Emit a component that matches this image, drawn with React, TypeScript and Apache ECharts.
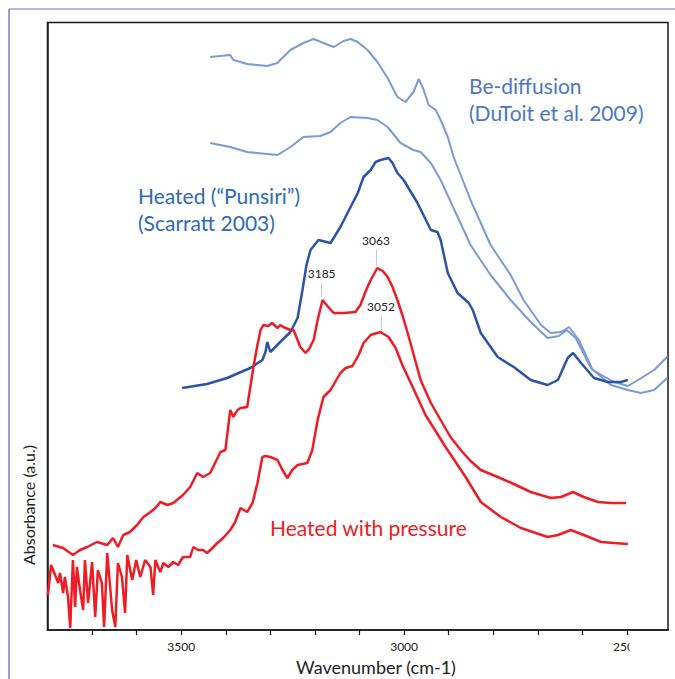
import React, { useEffect, useRef } from "react";
import * as echarts from "echarts";

// [wavenumber cm-1, absorbance a.u.]
const beDiffusionA: [number, number][] = [
  [3435, 5.73], [3390, 5.75], [3383, 5.7], [3352, 5.66], [3307, 5.64], [3284, 5.67], [3278, 5.7],
  [3255, 5.8], [3226, 5.87], [3203, 5.91], [3181, 5.87], [3158, 5.83], [3136, 5.89], [3120, 5.91],
  [3104, 5.88], [3082, 5.8], [3060, 5.68], [3037, 5.52], [3015, 5.33], [2997, 5.28], [2979, 5.38],
  [2967, 5.51], [2956, 5.4], [2945, 5.25], [2929, 5.2], [2918, 5.1], [2902, 4.93], [2889, 4.73],
  [2851, 4.3], [2806, 3.85], [2761, 3.55], [2732, 3.3], [2693, 3.05], [2671, 2.97], [2648, 2.98],
  [2630, 3.03], [2608, 2.9], [2577, 2.6], [2529, 2.48], [2498, 2.44], [2475, 2.5], [2439, 2.6], [2410, 2.73],
];

const beDiffusionB: [number, number][] = [
  [3435, 4.87], [3390, 4.83], [3352, 4.78], [3284, 4.75], [3255, 4.83], [3226, 4.93], [3188, 4.94],
  [3165, 4.98], [3143, 5.07], [3120, 5.13], [3082, 5.12], [3060, 5.1], [3037, 5.03], [3008, 4.87],
  [2979, 4.8], [2963, 4.78], [2940, 4.67], [2918, 4.5], [2884, 4.17], [2851, 3.85], [2806, 3.55],
  [2761, 3.3], [2716, 3.08], [2678, 2.92], [2653, 2.94], [2635, 3.0], [2615, 2.92], [2581, 2.62],
  [2536, 2.45], [2498, 2.4], [2469, 2.37], [2439, 2.4], [2410, 2.52],
];

const heatedPunsiri: [number, number][] = [
  [3498, 2.42], [3442, 2.46], [3397, 2.52], [3345, 2.62], [3318, 2.7], [3311, 2.78], [3307, 2.88],
  [3300, 2.78], [3278, 2.88], [3255, 2.98], [3239, 3.12], [3228, 3.4], [3219, 3.65], [3210, 3.8],
  [3192, 3.9], [3165, 3.87], [3143, 4.03], [3104, 4.37], [3091, 4.53], [3075, 4.6], [3064, 4.68],
  [3053, 4.7], [3035, 4.72], [3026, 4.67], [3015, 4.57], [3001, 4.5], [2970, 4.27], [2940, 4.0],
  [2925, 3.98], [2918, 3.9], [2902, 3.57], [2880, 3.37], [2855, 3.27], [2846, 3.2], [2828, 2.97],
  [2790, 2.73], [2754, 2.63], [2716, 2.5], [2678, 2.45], [2655, 2.5], [2633, 2.72], [2621, 2.77],
  [2603, 2.67], [2574, 2.52], [2543, 2.48], [2514, 2.48], [2498, 2.5],
];

const heatedPressureUpper: [number, number][] = [
  [3788, 0.85], [3765, 0.82], [3743, 0.75], [3727, 0.8], [3711, 0.83], [3689, 0.88], [3666, 0.85],
  [3653, 0.92], [3642, 0.83], [3630, 0.95], [3615, 0.98], [3599, 1.05], [3585, 1.13], [3569, 1.18],
  [3558, 1.22], [3547, 1.28], [3531, 1.25], [3518, 1.27], [3496, 1.35], [3480, 1.43], [3464, 1.57],
  [3451, 1.53], [3435, 1.57], [3412, 1.78], [3401, 1.8], [3390, 2.2], [3383, 2.13], [3374, 2.2],
  [3367, 2.22], [3352, 2.23], [3338, 2.63], [3329, 2.85], [3322, 3.0], [3316, 3.05], [3305, 3.04],
  [3296, 3.07], [3284, 3.02], [3278, 3.05], [3271, 3.03], [3255, 3.0], [3248, 3.0], [3239, 2.9],
  [3233, 2.83], [3221, 2.77], [3212, 2.82], [3203, 2.9], [3194, 3.1], [3183, 3.3], [3172, 3.24],
  [3158, 3.17], [3136, 3.17], [3109, 3.18], [3098, 3.25], [3087, 3.38], [3075, 3.5], [3060, 3.62],
  [3048, 3.59], [3037, 3.53], [3026, 3.43], [3015, 3.3], [3004, 3.15], [2992, 2.97], [2963, 2.5],
  [2940, 2.27], [2918, 2.1], [2896, 1.93], [2873, 1.8], [2851, 1.69], [2828, 1.6], [2790, 1.53],
  [2754, 1.46], [2716, 1.38], [2671, 1.32], [2648, 1.33], [2621, 1.38], [2597, 1.33], [2565, 1.28],
  [2536, 1.27], [2502, 1.27],
];

const heatedPressureLower: [number, number][] = [
  [3799, 0.35], [3792, 0.65], [3783, 0.55], [3776, 0.47], [3772, 0.57], [3765, 0.37], [3761, 0.53],
  [3754, 0.33], [3749, 0.02], [3743, 0.7], [3738, 0.23], [3734, 0.63], [3727, 0.4], [3720, 0.2],
  [3716, 0.7], [3709, 0.27], [3700, 0.68], [3693, 0.13], [3687, 0.6], [3678, 0.47], [3673, 0.03],
  [3666, 0.77], [3655, 0.2], [3648, 0.03], [3642, 0.67], [3633, 0.53], [3626, 0.17], [3621, 0.75],
  [3610, 0.5], [3601, 0.7], [3592, 0.53], [3581, 0.7], [3569, 0.63], [3563, 0.35], [3558, 0.7],
  [3547, 0.58], [3540, 0.67], [3529, 0.63], [3518, 0.68], [3507, 0.65], [3496, 0.73], [3480, 0.73],
  [3473, 0.83], [3462, 0.8], [3451, 0.8], [3442, 0.77], [3430, 0.82], [3419, 0.87], [3406, 0.92],
  [3390, 1.0], [3379, 1.08], [3367, 1.22], [3352, 1.18], [3340, 1.27], [3329, 1.47], [3318, 1.73],
  [3311, 1.74], [3300, 1.73], [3284, 1.7], [3273, 1.6], [3262, 1.52], [3251, 1.6], [3239, 1.65],
  [3217, 1.67], [3206, 1.8], [3194, 2.1], [3181, 2.33], [3165, 2.4], [3143, 2.57], [3131, 2.62],
  [3116, 2.64], [3102, 2.75], [3091, 2.87], [3075, 2.95], [3053, 2.98], [3035, 2.93], [3019, 2.82],
  [3004, 2.65], [2985, 2.47], [2952, 2.15], [2907, 1.83], [2862, 1.53], [2828, 1.28], [2783, 1.13],
  [2738, 1.02], [2678, 0.93], [2655, 0.95], [2626, 1.0], [2597, 0.95], [2558, 0.88], [2529, 0.87],
  [2498, 0.86],
];

const xTicks = [2500, 2600, 2700, 2800, 2900, 3000, 3100, 3200, 3300, 3400, 3500, 3600, 3700];
const xLabels = [2500, 3000, 3500];

// peak annotations: [wavenumber, line start, line end]
const peakMarks: [number, number, number][] = [
  [3063, 3.64, 3.8],
  [3185, 3.33, 3.47],
];
const peakMarksLower: [number, number, number][] = [[3052, 3.0, 3.14]];

const FONT = "Lato, 'Open Sans', sans-serif";

function marks(list: [number, number, number][]) {
  return {
    silent: true,
    symbol: ["none", "none"],
    lineStyle: { color: "#c8c8c8", width: 1, type: "solid" },
    label: {
      show: true,
      position: "end",
      distance: 4,
      color: "#222",
      fontSize: 12,
      fontFamily: FONT,
      formatter: (p: any) => String(p.data.name),
    },
    data: list.map(([w, a, b]) => [
      { coord: [w, a], name: String(w) },
      { coord: [w, b], name: String(w) },
    ]),
  };
}

export default function App() {
  const ref = useRef<HTMLDivElement>(null);
  useEffect(() => {
    if (!ref.current) return;
    const chart = echarts.init(ref.current, undefined, { renderer: "svg" });
    const lightBlue = "#7b9bd5";
    const red = "#ee1c24";
    chart.setOption({
      animation: false,
      backgroundColor: "#ffffff",
      grid: {
        left: 47.5,
        top: 22.5,
        width: 620.5,
        height: 607.5,
        show: true,
        borderColor: "#1a1a1a",
        borderWidth: 1.5,
        backgroundColor: "transparent",
      },
      xAxis: {
        type: "value",
        min: 2408,
        max: 3800,
        inverse: true,
        splitLine: { show: false },
        axisLine: { show: true, lineStyle: { color: "#1a1a1a", width: 1.5 } },
        axisTick: {
          show: true,
          customValues: xTicks,
          length: 5,
          lineStyle: { color: "#1a1a1a", width: 1.2 },
        },
        axisLabel: {
          customValues: xLabels,
          margin: 10,
          fontSize: 12,
          color: "#222",
          fontFamily: FONT,
          formatter: (v: number) => String(v),
        },
      },
      yAxis: {
        type: "value",
        min: 0,
        max: 6.075,
        splitLine: { show: false },
        axisLine: { show: true, lineStyle: { color: "#1a1a1a", width: 1.5 } },
        axisTick: { show: false },
        axisLabel: { show: false },
      },
      series: [
        {
          type: "line",
          data: beDiffusionA,
          showSymbol: false,
          lineStyle: { color: lightBlue, width: 2 },
        },
        {
          type: "line",
          data: beDiffusionB,
          showSymbol: false,
          lineStyle: { color: lightBlue, width: 2 },
        },
        {
          type: "line",
          data: heatedPunsiri,
          showSymbol: false,
          lineStyle: { color: "#2b53a7", width: 2.5 },
        },
        {
          type: "line",
          data: heatedPressureUpper,
          showSymbol: false,
          lineStyle: { color: red, width: 2.5 },
          markLine: marks(peakMarks),
        },
        {
          type: "line",
          data: heatedPressureLower,
          showSymbol: false,
          lineStyle: { color: red, width: 2.5 },
          markLine: marks(peakMarksLower),
        },
      ],
      graphic: [
        { type: "line", shape: { x1: 9, y1: 9, x2: 675, y2: 9 }, style: { stroke: "#9aa3d6", lineWidth: 1.5 } },
        { type: "line", shape: { x1: 9, y1: 9, x2: 9, y2: 679 }, style: { stroke: "#4a5cc0", lineWidth: 1.2 } },
        { type: "rect", shape: { x: 629.5, y: 637, width: 35, height: 20 }, style: { fill: "#ffffff" }, z: 100 },
        {
          type: "text", x: 469, y: 85,
          style: { text: "Be-diffusion", fill: "#4a78c2", fontSize: 21, fontFamily: FONT, textVerticalAlign: "middle" },
        },
        {
          type: "text", x: 469, y: 112,
          style: { text: "(DuToit et al. 2009)", fill: "#4a78c2", fontSize: 21, fontFamily: FONT, textVerticalAlign: "middle" },
        },
        {
          type: "text", x: 138, y: 195,
          style: { text: "Heated (\u201cPunsiri\u201d)", fill: "#2e6ab5", fontSize: 21, fontFamily: FONT, textVerticalAlign: "middle" },
        },
        {
          type: "text", x: 138, y: 222,
          style: { text: "(Scarratt 2003)", fill: "#2e6ab5", fontSize: 21, fontFamily: FONT, textVerticalAlign: "middle" },
        },
        {
          type: "text", x: 270, y: 527,
          style: { text: "Heated with pressure", fill: red, fontSize: 21, fontFamily: FONT, textVerticalAlign: "middle" },
        },
        {
          type: "text", x: 376, y: 667,
          style: { text: "Wavenumber (cm-1)", fill: "#222", fontSize: 18, fontFamily: FONT, textAlign: "center", textVerticalAlign: "middle" },
        },
        {
          type: "text", x: 28, y: 505, rotation: Math.PI / 2,
          style: { text: "Absorbance (a.u.)", fill: "#222", fontSize: 16, fontFamily: FONT, textAlign: "center", textVerticalAlign: "middle" },
        },
      ],
    });
    return () => chart.dispose();
  }, []);
  return (
    <div
      ref={ref}
      style={{ position: "fixed", left: 0, top: 0, width: 675, height: 679, background: "#fff" }}
    />
  );
}
